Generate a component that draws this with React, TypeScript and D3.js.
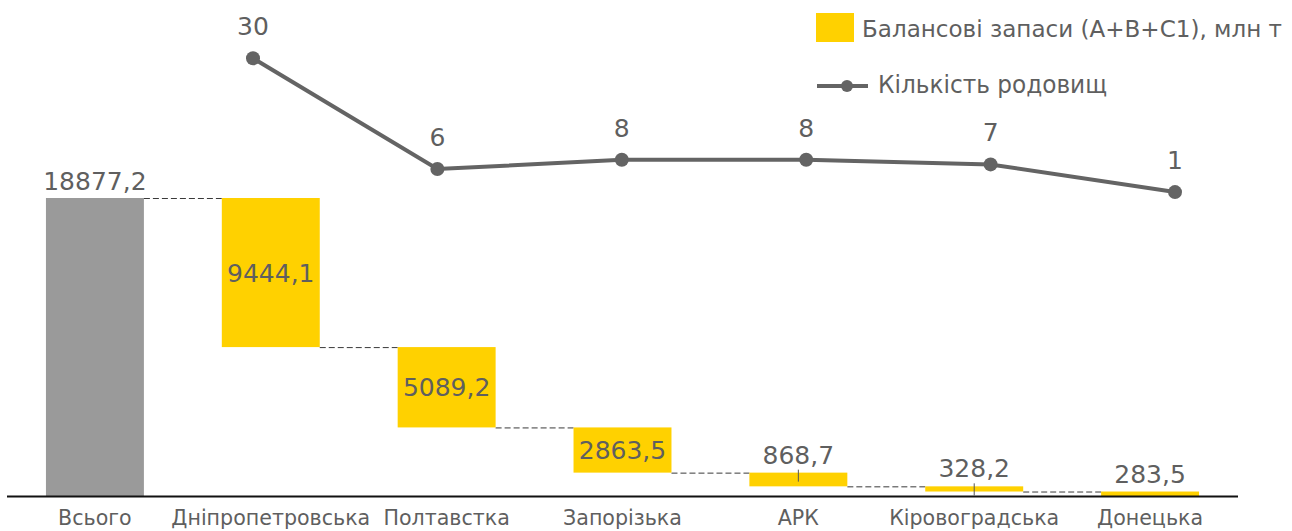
import React from "react";
import * as d3 from "d3";

const categories = ["Всього", "Дніпропетровська", "Полтавстка", "Запорізька", "АРК", "Кіровоградська", "Донецька"];
const total = 18877.2;
const regionValues = [9444.1, 5089.2, 2863.5, 868.7, 328.2, 283.5];
const regionLabels = ["9444,1", "5089,2", "2863,5", "868,7", "328,2", "283,5"];
const totalLabel = "18877,2";
const deposits = [30, 6, 8, 8, 7, 1];
const legendBars = "Балансові запаси (А+В+С1), млн т";
const legendLine = "Кількість родовищ";

const W = 1292, H = 531;
const FONT = "'DejaVu Sans', Verdana, sans-serif";
const TEXT = "#5f5f5f";
const YELLOW = "#FFD100";
const GREY = "#9a9a9a";
const LINE = "#646464";

export default function App() {
  const x = d3.scaleBand<string>().domain(categories).range([7, 1238]).paddingInner(0.443).paddingOuter(0.2215);
  const y = d3.scaleLinear().domain([0, total]).range([496, 198]);
  const regions = categories.slice(1);
  const xl = d3.scalePoint<string>().domain(regions).range([253, 1175]);
  const yl = d3.scaleLinear().domain([0, 30]).range([196.7, 58.3]);

  const steps: { cat: string; top: number; bottom: number; label: string; v: number }[] = [];
  let cur = total;
  regionValues.forEach((v, i) => {
    steps.push({ cat: regions[i], top: cur, bottom: cur - v, label: regionLabels[i], v });
    cur -= v;
  });

  const bw = x.bandwidth();
  const line = d3.line<number>().x((_, i) => xl(regions[i])!).y((d) => yl(d));

  const connectors: { x1: number; x2: number; yv: number }[] = [];
  connectors.push({ x1: x(categories[0])! + bw, x2: x(regions[0])!, yv: total });
  steps.forEach((s, i) => {
    if (i < steps.length - 1) connectors.push({ x1: x(s.cat)! + bw, x2: x(steps[i + 1].cat)!, yv: s.bottom });
  });

  return (
    <svg width={W} height={H} style={{ position: "absolute", left: 0, top: 0, background: "#fff" }} fontFamily={FONT}>
      <rect x={x(categories[0])} y={y(total)} width={bw} height={y(0) - y(total)} fill={GREY} />
      <text x={x(categories[0])! + bw / 2} y={y(total) - 8} textAnchor="middle" fontSize={25} fill={TEXT}>{totalLabel}</text>
      {connectors.map((c, i) => (
        <line key={i} x1={c.x1} x2={c.x2} y1={y(c.yv) + 0.5} y2={y(c.yv) + 0.5} stroke="#3a3a3a" strokeWidth={1} strokeDasharray="6,3" />
      ))}
      {steps.map((s, i) => {
        const cx = x(s.cat)! + bw / 2;
        const yt = y(s.top), yb = y(s.bottom);
        const inside = i < 3;
        return (
          <g key={s.cat}>
            <rect x={x(s.cat)} y={yt} width={bw} height={Math.max(yb - yt, 1)} fill={YELLOW} />
            {(i === 3 || i === 4) && (
              <line x1={cx} x2={cx} y1={yt - 3} y2={yt + 9} stroke="#555" strokeWidth={1} />
            )}
            <text x={cx} y={inside ? (yt + yb) / 2 + 9 : yt - 9} textAnchor="middle" fontSize={25} fill={TEXT}>{s.label}</text>
          </g>
        );
      })}
      <line x1={7} x2={1238} y1={496.5} y2={496.5} stroke="#111" strokeWidth={2} />
      {categories.map((c) => (
        <text key={c} x={x(c)! + bw / 2} y={525} textAnchor="middle" fontSize={20.6} fill={TEXT}>{c}</text>
      ))}
      <path d={line(deposits) || ""} fill="none" stroke={LINE} strokeWidth={4} />
      {deposits.map((d, i) => (
        <g key={i}>
          <circle cx={xl(regions[i])} cy={yl(d)} r={7} fill={LINE} />
          <text x={xl(regions[i])} y={yl(d) - 23} textAnchor="middle" fontSize={25} fill={TEXT}>{d}</text>
        </g>
      ))}
      <rect x={816} y={13} width={38} height={29} fill={YELLOW} />
      <text x={862} y={37} fontSize={23.5} fill={TEXT} textLength={420} lengthAdjust="spacingAndGlyphs">{legendBars}</text>
      <line x1={817} x2={868} y1={86} y2={86} stroke={LINE} strokeWidth={4} />
      <circle cx={847} cy={86} r={6} fill={LINE} />
      <text x={878} y={93} fontSize={24} fill={TEXT} textLength={229} lengthAdjust="spacingAndGlyphs">{legendLine}</text>
    </svg>
  );
}
